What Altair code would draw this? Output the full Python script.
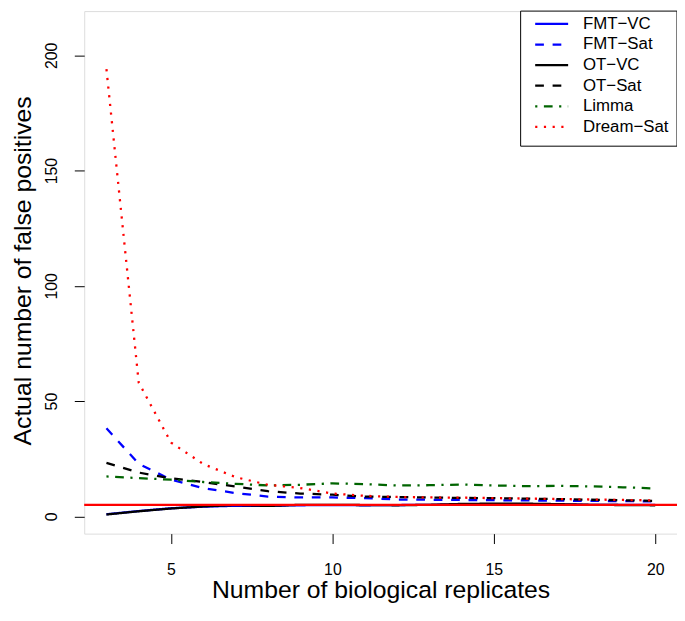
import altair as alt
import pandas as pd

# ---- data ----
replicates = list(range(3, 21))
series_names = ["FMT−VC", "FMT−Sat", "OT−VC", "OT−Sat", "Limma", "Dream−Sat"]

fmt_vc = [0.9, 2.3, 3.5, 4.2, 4.6, 4.6, 4.8, 4.9, 4.8, 4.9, 5.0, 5.1, 5.2, 5.1, 5.1, 5.0, 5.0, 5.0]
fmt_sat = [38.2, 22.8, 15.9, 12.2, 10.1, 8.6, 8.2, 8.2, 7.9, 7.3, 7.2, 7.1, 7.0, 6.9, 6.8, 6.7, 6.6, 6.5]
ot_vc = [0.8, 2.2, 3.4, 4.3, 4.9, 4.5, 5.0, 5.0, 4.9, 4.8, 5.0, 5.4, 5.5, 5.5, 5.3, 5.0, 4.9, 4.8]
ot_sat = [23.2, 19.0, 16.5, 14.9, 12.9, 10.9, 9.9, 9.4, 8.6, 8.4, 8.2, 8.0, 7.9, 7.7, 7.5, 7.2, 7.0, 6.7]
limma = [17.3, 16.6, 15.9, 14.9, 14.1, 13.4, 13.7, 14.3, 14.0, 13.4, 13.5, 13.8, 13.4, 13.1, 13.2, 13.0, 12.6, 12.1]
dream_sat = [194.0, 58.0, 32.0, 22.7, 17.0, 13.7, 12.3, 9.9, 8.9, 8.4, 8.2, 8.1, 7.9, 7.7, 7.5, 7.3, 7.1, 6.9]

threshold = [5]
x_ticks = [5, 10, 15, 20]
y_ticks = [0, 50, 100, 150, 200]

series_colors = ["#0000FF", "#0000FF", "#000000", "#000000", "#006400", "#FF0000"]
series_dashes = [[1, 0], [8.8, 8.8], [1, 0], [8.8, 8.8], [2.2, 6.6, 8.8, 6.6], [2.2, 6.6]]

# ---- tables ----
values = [fmt_vc, fmt_sat, ot_vc, ot_sat, limma, dream_sat]
rows = []
for name, vals in zip(series_names, values):
    for x, v in zip(replicates, vals):
        rows.append({"replicates": x, "value": v, "series": name})
df = pd.DataFrame(rows)
legend_df = pd.DataFrame({"series": series_names, "idx": list(range(len(series_names)))})
thr_df = pd.DataFrame({"y": threshold})

FONT = "Liberation Sans"
W, H = 599, 528

color_scale = alt.Scale(domain=series_names, range=series_colors)
dash_scale = alt.Scale(domain=series_names, range=series_dashes)
x_scale = alt.Scale(domain=[2.311, 20.674], nice=False, zero=False)
y_scale = alt.Scale(domain=[-7.5, 219.2], nice=False, zero=False)

x_axis = alt.Axis(
    values=x_ticks, title="Number of biological replicates", grid=False, domain=False,
    tickSize=10, tickColor="black", tickWidth=1, labelFontSize=16, labelColor="black",
    labelFont=FONT, labelBaseline="alphabetic", labelPadding=31, labelFlush=False,
    titleFont=FONT, titleFontSize=25, titleFontWeight="normal", titleColor="black",
    titleBaseline="alphabetic", titleY=65, titleX=W / 2,
)
y_axis = alt.Axis(
    values=y_ticks, title="Actual number of false positives", grid=False, domain=False,
    tickSize=10, tickColor="black", tickWidth=1, labelFontSize=16, labelColor="black",
    labelFont=FONT, labelAngle=-90, labelAlign="center", labelBaseline="alphabetic",
    labelPadding=18, labelFlush=False,
    titleFont=FONT, titleFontSize=25, titleFontWeight="normal", titleColor="black",
    titleAngle=-90, titleBaseline="alphabetic", titleX=-54, titleY=262, titleAlign="center",
)

lines = alt.Chart(df).mark_line(strokeWidth=2.3, strokeCap="butt").encode(
    x=alt.X("replicates:Q", scale=x_scale, axis=x_axis),
    y=alt.Y("value:Q", scale=y_scale, axis=y_axis),
    color=alt.Color("series:N", scale=color_scale, legend=None),
    strokeDash=alt.StrokeDash("series:N", scale=dash_scale, legend=None),
)

hline = alt.Chart(thr_df).mark_rule(color="#FF0000", strokeWidth=2.3).encode(
    y=alt.Y("y:Q", scale=y_scale, axis=y_axis)
)

legend_box = alt.Chart(pd.DataFrame({"a": [0]})).mark_rect(
    fill="white", stroke="black", strokeWidth=1
).encode(
    x=alt.value(441), x2=alt.value(599), y=alt.value(0), y2=alt.value(136.5)
)

legend_base = alt.Chart(legend_df).transform_calculate(ly="13 + 20.8 * datum.idx")

legend_rules = legend_base.mark_rule(strokeWidth=2.3, strokeCap="butt").encode(
    x=alt.value(455.7), x2=alt.value(489),
    y=alt.Y("ly:Q", scale=None, axis=None),
    color=alt.Color("series:N", scale=color_scale, legend=None),
    strokeDash=alt.StrokeDash("series:N", scale=dash_scale, legend=None),
)

legend_text = legend_base.mark_text(
    align="left", baseline="middle", fontSize=17, font=FONT, color="black"
).encode(
    x=alt.value(504),
    y=alt.Y("ly:Q", scale=None, axis=None),
    text="series:N",
)

chart = alt.layer(lines, hline, legend_box, legend_rules, legend_text).properties(
    width=W, height=H,
    autosize=alt.AutoSizeParams(type="none"),
    padding={"left": 77, "top": 0, "right": 0, "bottom": 70},
).configure_view(
    stroke="black", strokeWidth=1
).configure(
    font=FONT, background="white"
)

chart.save("out.html", embed_options={"renderer": "svg", "actions": False})
